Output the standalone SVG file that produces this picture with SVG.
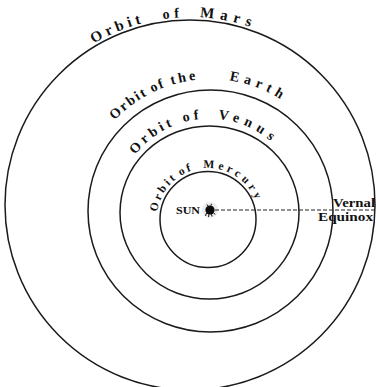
<svg xmlns="http://www.w3.org/2000/svg" width="376" height="387" viewBox="0 0 376 387">
<style>
.orbit{fill:none;stroke:#1a1a1a;stroke-width:1.5}
.lbl{font-family:"Liberation Serif","Times New Roman",serif;font-weight:bold;fill:#111}
.plain{font-family:"Liberation Serif","Times New Roman",serif;font-weight:bold;fill:#111;font-size:12px}
.dash{stroke:#222;stroke-width:1;stroke-dasharray:4 2;fill:none}
</style>
<defs>
<path id="pMars" d="M 2 205 A 188 188 0 0 1 378 205"/>
<path id="pEarth" d="M 78.5 211 A 132 132 0 0 1 342.5 211"/>
<path id="pVenus" d="M 115.5 212.5 A 94 94 0 0 1 303.5 212.5"/>
<path id="pMercury" d="M 156.5 219.5 A 51.5 51.5 0 0 1 259.5 219.5"/>
</defs>
<rect width="376" height="387" fill="#fff"/>
<g id="mars">
<circle class="orbit" cx="190" cy="205" r="185"/>
<text class="lbl" font-size="15"><textPath href="#pMars" startOffset="194" letter-spacing="4">Orbit</textPath></text>
<text class="lbl" font-size="14"><textPath href="#pMars" startOffset="268" letter-spacing="4.5">of</textPath></text>
<text class="lbl" font-size="15"><textPath href="#pMars" startOffset="305" letter-spacing="5.7">Mars</textPath></text>
</g>
<g id="earth">
<ellipse class="orbit" cx="210.5" cy="211" rx="122.5" ry="121"/>
<text class="lbl" font-size="14"><textPath href="#pEarth" startOffset="100" letter-spacing="1.8">Orbit</textPath></text>
<text class="lbl" font-size="14"><textPath href="#pEarth" startOffset="147" letter-spacing="1.5">of</textPath></text>
<text class="lbl" font-size="14"><textPath href="#pEarth" startOffset="168" letter-spacing="2.8">the</textPath></text>
<text class="lbl" font-size="14"><textPath href="#pEarth" startOffset="226" letter-spacing="5">Earth</textPath></text>
</g>
<g id="venus">
<ellipse class="orbit" cx="209.5" cy="212.5" rx="89.5" ry="86.5"/>
<text class="lbl" font-size="14"><textPath href="#pVenus" startOffset="62" letter-spacing="3.4">Orbit</textPath></text>
<text class="lbl" font-size="14"><textPath href="#pVenus" startOffset="121" letter-spacing="4">of</textPath></text>
<text class="lbl" font-size="14"><textPath href="#pVenus" startOffset="156" letter-spacing="5.4">Venus</textPath></text>
</g>
<g id="mercury">
<circle class="orbit" cx="208" cy="219.5" r="48"/>
<text class="lbl" font-size="11.5"><textPath href="#pMercury" startOffset="7.6" letter-spacing="2.7">Orbit</textPath></text>
<text class="lbl" font-size="11.5"><textPath href="#pMercury" startOffset="52" letter-spacing="2.3">of</textPath></text>
<text class="lbl" font-size="11.5"><textPath href="#pMercury" startOffset="76" letter-spacing="3.6">Mercury</textPath></text>
</g>
<g id="sun">
<circle cx="210" cy="210" r="8" fill="#000" opacity="0.08"/>
<circle cx="210" cy="210" r="4.6" fill="#0a0a0a"/>
<path d="M206.5 213 L205.5 216 M209 214 L208.5 217 M211.5 214 L212 216.5 M213.5 212.5 L215 214.5 M208 206 L207 204.5 M211 205.5 L211.5 203.8" stroke="#111" stroke-width="1"/>
<text class="lbl" x="176" y="213.5" font-size="10" textLength="24" lengthAdjust="spacingAndGlyphs">SUN</text>
</g>
<g id="vernal-equinox">
<text class="plain" x="333" y="207" textLength="42" lengthAdjust="spacingAndGlyphs">Vernal</text>
<text class="plain" x="318" y="221" textLength="55" lengthAdjust="spacingAndGlyphs">Equinox</text>
</g>
<g id="connectors">
<line class="dash" x1="215" y1="210" x2="376" y2="210"/>
</g>
</svg>
